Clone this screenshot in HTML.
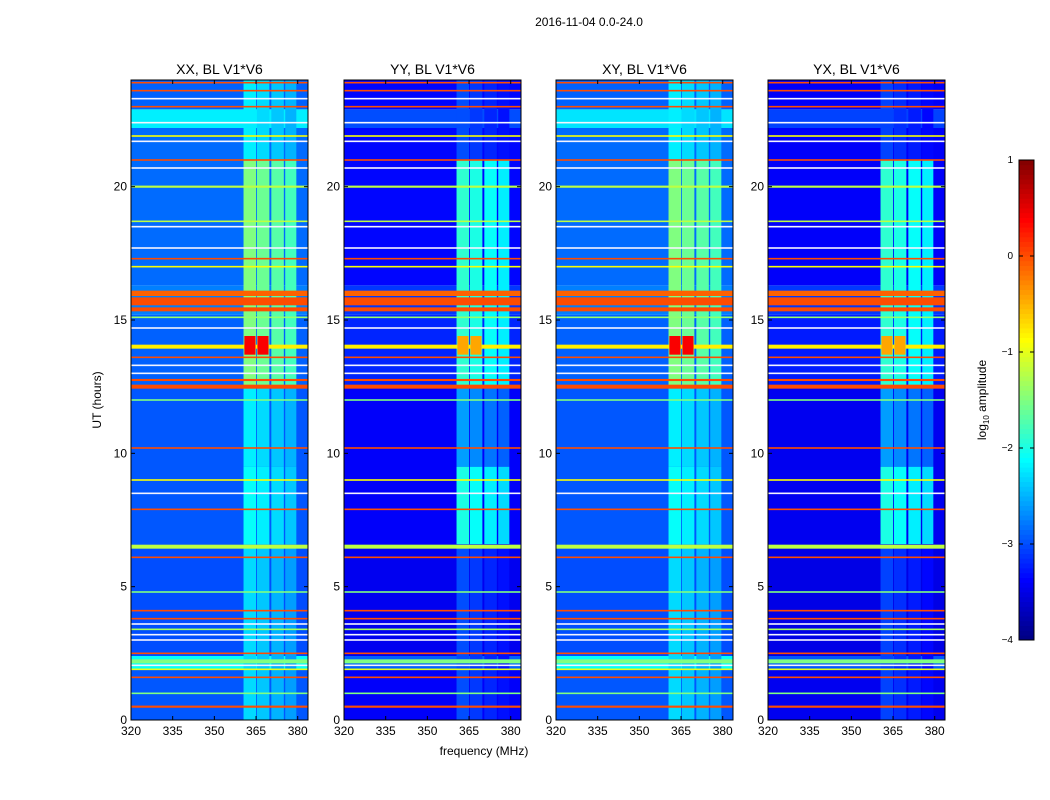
<!DOCTYPE html>
<html><head><meta charset="utf-8"><style>
body{margin:0;background:#fff;}
svg{display:block;font-family:"Liberation Sans",sans-serif;}
</style></head><body>
<svg id="fig" width="1050" height="800" viewBox="0 0 1050 800">
<rect width="1050" height="800" fill="#fff"/>
<text x="589" y="26" font-size="12" text-anchor="middle">2016-11-04 0.0-24.0</text>
<text x="484" y="755" font-size="12" text-anchor="middle">frequency (MHz)</text>
<text transform="translate(101,400) rotate(-90)" font-size="12" text-anchor="middle">UT (hours)</text>
<g id="panels"></g>
<g id="cbar"></g>
</svg>
<script>
const panelNames=["XX, BL V1*V6","YY, BL V1*V6","XY, BL V1*V6","YX, BL V1*V6"];
const panelX=[131,344,556,768];
const xTicks=[320,335,350,365,380];
const yTicks=[0,5,10,15,20];
const segBounds=[0,1.9,2.4,6.6,12.5,15.2,16.3,22.2,22.9,24];
const segXX=[-2.95,-2.1,-3.0,-2.95,-2.9,-2.75,-2.85,-2.2,-2.9];
const segYY=[-3.4,-2.9,-3.45,-3.4,-3.2,-3.1,-3.35,-3.0,-3.35];
const segXY=[-2.95,-2.1,-3.0,-2.95,-2.9,-2.75,-2.85,-2.25,-2.9];
const segYX=[-3.45,-2.95,-3.5,-3.45,-3.25,-3.1,-3.4,-3.05,-3.4];
const bandF0=[360.5,365.3,370.5,375.5];
const bandF1=[365,369.8,375,379.5];
const bandBounds=[0,6.6,9.5,12.5,21,24];
const bandXX=[-2.3,-2.1,-2.2,-1.5,-2.2];
const bandYY=[-3.0,-2.0,-2.6,-1.9,-3.0];
const bandXY=[-2.3,-2.1,-2.2,-1.5,-2.2];
const bandYX=[-3.05,-2.0,-2.6,-1.9,-3.05];
const lineHour=[0.5,1.0,1.6,1.9,2.05,2.2,2.5,3.0,3.2,3.4,3.6,3.8,4.1,4.8,6.1,6.5,7.9,8.5,9.0,10.2,12.0,12.5,12.75,13.0,13.3,13.6,14.0,14.7,15.1,15.4,15.7,16.0,17.0,17.3,17.7,18.5,18.7,20.0,20.7,21.0,21.7,21.9,22.4,23.0,23.3,23.6,23.9];
const lineLevel=[0,-1.5,0,-1,99,-1.5,0,99,99,-1.3,99,0,0,-1.5,0,-1.2,0,99,-0.9,0,-1.5,0,0,99,99,0,-0.8,99,-1.4,0,0,-0.1,-0.9,0,99,99,-1.2,-1.2,99,0,99,-0.9,99,0,99,0,0];
const lineWidth=[0.08,0.06,0.06,0.06,0.06,0.15,0.06,0.06,0.06,0.06,0.06,0.06,0.06,0.06,0.06,0.15,0.06,0.06,0.06,0.06,0.06,0.15,0.08,0.06,0.06,0.06,0.15,0.06,0.06,0.15,0.3,0.2,0.06,0.06,0.06,0.06,0.06,0.08,0.06,0.06,0.06,0.06,0.06,0.06,0.06,0.06,0.06];
const hotF0=[360.8,365.5];
const hotF1=[364.8,369.5];
const hotLevel=[0.4,0.4];
const segAll=[segXX,segYY,segXY,segYX];
const bandAll=[bandXX,bandYY,bandXY,bandYX];
const hotScale=[1,0.3,1,0.3];
const NS="http://www.w3.org/2000/svg";
function jet(v){if(v===99)return "#f4f4ff";let t=(v+4)/5;t=Math.max(0,Math.min(1,t));
const c=x=>Math.round(255*Math.max(0,Math.min(1,1.5-Math.abs(4*t-x))));
return `rgb(${c(3)},${c(2)},${c(1)})`;}
const W=177,top0=80,bot=720;
function fy(h){return bot-h*(bot-top0)/24;}
function mk(tag,a,parent){const e=document.createElementNS(NS,tag);for(const k in a)e.setAttribute(k,a[k]);parent.appendChild(e);return e;}
const G=document.getElementById('panels');
panelX.forEach((x0,p)=>{
 const fx=f=>x0+(f-320)*W/63.7;
 const g=mk('g',{},G);
 
 
 const seg=segAll[p];
 for(let i=0;i<seg.length;i++){
  const r=mk('rect',{x:x0,y:fy(segBounds[i+1]),width:W,height:fy(segBounds[i])-fy(segBounds[i+1]),fill:jet(seg[i])},g);
  
  
 }
 const bl=bandAll[p];
 for(let b=0;b<bandF0.length;b++)for(let i=0;i<bl.length;i++){
  const r=mk('rect',{x:fx(bandF0[b]),y:fy(bandBounds[i+1]),width:fx(bandF1[b])-fx(bandF0[b]),height:fy(bandBounds[i])-fy(bandBounds[i+1]),fill:jet(bl[i]-b*0.1)},g);
  
  
 }
 for(let i=0;i<lineHour.length;i++){
  const h=Math.max(1.5,lineWidth[i]*640/24);
  const r=mk('rect',{x:x0,y:fy(lineHour[i])-h/2,width:W,height:h,fill:jet(lineLevel[i])},g);
  
  
 }
 for(let i=0;i<hotF0.length;i++){
  const r=mk('rect',{x:fx(hotF0[i]),y:fy(14.4),width:fx(hotF1[i])-fx(hotF0[i]),height:fy(13.7)-fy(14.4),fill:jet(hotLevel[i]-(1-hotScale[p])*1.2)},g);
  
  
 }
 const fr=mk('rect',{x:x0,y:top0,width:W,height:bot-top0,fill:'none',stroke:'#000','stroke-width':1},g);
 
 
 const t=mk('text',{x:x0+W/2,y:74,'font-size':14,'text-anchor':'middle'},g);t.textContent=panelNames[p];
 
 
 xTicks.forEach(v=>{const X=fx(v);
  mk('line',{x1:X,x2:X,y1:bot,y2:bot-4,stroke:'#000'},g);mk('line',{x1:X,x2:X,y1:top0,y2:top0+4,stroke:'#000'},g);
  const tt=mk('text',{x:X,y:bot+15,'font-size':12,'text-anchor':'middle'},g);tt.textContent=v;
  
  });
 yTicks.forEach(v=>{const Y=fy(v);
  mk('line',{x1:x0,x2:x0+4,y1:Y,y2:Y,stroke:'#000'},g);mk('line',{x1:x0+W,x2:x0+W-4,y1:Y,y2:Y,stroke:'#000'},g);
  const tt=mk('text',{x:x0-4,y:Y+4,'font-size':12,'text-anchor':'end'},g);tt.textContent=v;
  
  });
});
const cbTicks=[1,0,-1,-2,-3,-4];
const CB=document.getElementById('cbar');
const cy=v=>640-(v+4)*96;
for(let i=0;i<100;i++){const v=-4+5*i/100;
 const r=mk('rect',{x:1019,y:cy(v+0.05),width:15,height:5.2,fill:jet(v+0.025)},CB);
 
 }
mk('rect',{x:1019,y:160,width:15,height:480,fill:'none',stroke:'#000'},CB);
cbTicks.forEach(v=>{const Y=cy(v);
 mk('line',{x1:1019,x2:1023,y1:Y,y2:Y,stroke:'#000'},CB);mk('line',{x1:1034,x2:1030,y1:Y,y2:Y,stroke:'#000'},CB);
 const t=mk('text',{x:1013,y:Y+3,'font-size':10,'text-anchor':'end'},CB);t.textContent=v<0?'\u2212'+(-v):v;
 
 });
const lab=mk('text',{transform:'translate(986,400) rotate(-90)','font-size':12,'text-anchor':'middle'},CB);
lab.innerHTML='log<tspan font-size="8" dy="3">10</tspan><tspan dy="-3"> amplitude</tspan>';


</script>
</body></html>
